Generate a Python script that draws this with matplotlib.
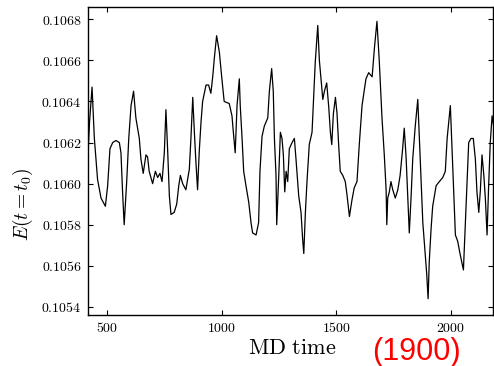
import matplotlib
matplotlib.use('Agg')
import matplotlib.pyplot as plt

# MD time steps and energy values
MD_TIME = [
    419, 424, 435, 445, 459, 474, 493, 503, 513, 525, 539, 554, 561, 568, 575,
    586, 595, 605, 616, 626, 641, 648, 658, 670, 677, 684, 699, 711, 721, 731,
    740, 750, 757, 765, 772, 779, 793, 804, 813, 820, 830, 844, 859, 866, 874,
    881, 888, 895, 902, 910, 917, 932, 943, 953, 961, 968, 978, 990, 1001, 1011,
    1033, 1045, 1051, 1059, 1067, 1077, 1081, 1089, 1096, 1106, 1118, 1128,
    1135, 1150, 1161, 1167, 1176, 1186, 1201, 1208, 1218, 1225, 1230, 1237,
    1240, 1249, 1256, 1263, 1269, 1275, 1281, 1288, 1295, 1307, 1317, 1324,
    1336, 1346, 1353, 1358, 1365, 1372, 1382, 1394, 1400, 1408, 1419, 1426,
    1433, 1441, 1448, 1458, 1467, 1474, 1480, 1487, 1496, 1503, 1510, 1517,
    1528, 1539, 1547, 1557, 1568, 1578, 1590, 1600, 1612, 1629, 1641, 1656,
    1666, 1677, 1687, 1699, 1709, 1717, 1720, 1724, 1731, 1738, 1746, 1757,
    1768, 1778, 1789, 1796, 1804, 1811, 1818, 1826, 1833, 1844, 1855, 1862,
    1869, 1877, 1887, 1894, 1900, 1905, 1913, 1920, 1935, 1949, 1964, 1975,
    1983, 1997, 2004, 2012, 2019, 2029, 2039, 2054, 2062, 2070, 2077, 2087,
    2097, 2106, 2113, 2121, 2128, 2135, 2143, 2150, 2157, 2164, 2171, 2179,
    2190,
]
ENERGY = [
    0.10618, 0.10630, 0.10647, 0.10622, 0.10602, 0.10593, 0.10589, 0.10599,
    0.10617, 0.10620, 0.10621, 0.10620, 0.10615, 0.10596, 0.10580, 0.10601,
    0.10622, 0.10638, 0.10645, 0.10632, 0.10622, 0.10612, 0.10605, 0.10614,
    0.10613, 0.10606, 0.10600, 0.10606, 0.10603, 0.10605, 0.10601, 0.10615,
    0.10636, 0.10615, 0.10594, 0.10585, 0.10586, 0.10590, 0.10599, 0.10604,
    0.10600, 0.10597, 0.10607, 0.10622, 0.10642, 0.10625, 0.10610, 0.10597,
    0.10615, 0.10630, 0.10640, 0.10648, 0.10648, 0.10644, 0.10652, 0.10661,
    0.10672, 0.10664, 0.10651, 0.10640, 0.10639, 0.10633, 0.10625, 0.10615,
    0.10638, 0.10651, 0.10638, 0.10622, 0.10606, 0.10599, 0.10591, 0.10581,
    0.10576, 0.10575, 0.10581, 0.10606, 0.10623, 0.10628, 0.10632, 0.10645,
    0.10656, 0.10645, 0.10622, 0.10604, 0.10580, 0.10604, 0.10625, 0.10622,
    0.10614, 0.10596, 0.10606, 0.10601, 0.10617, 0.10620, 0.10622, 0.10612,
    0.10594, 0.10586, 0.10573, 0.10566, 0.10586, 0.10601, 0.10619, 0.10625,
    0.10640, 0.10659, 0.10677, 0.10660, 0.10651, 0.10641, 0.10645, 0.10649,
    0.10637, 0.10625, 0.10619, 0.10634, 0.10642, 0.10634, 0.10619, 0.10606,
    0.10604, 0.10601, 0.10594, 0.10584, 0.10592, 0.10598, 0.10601, 0.10619,
    0.10638, 0.10651, 0.10654, 0.10652, 0.10666, 0.10679, 0.10660, 0.10632,
    0.10614, 0.10597, 0.10580, 0.10593, 0.10596, 0.10601, 0.10597, 0.10593,
    0.10597, 0.10604, 0.10617, 0.10627, 0.10613, 0.10594, 0.10576, 0.10594,
    0.10612, 0.10628, 0.10641, 0.10622, 0.10603, 0.10581, 0.10566, 0.10556,
    0.10544, 0.10562, 0.10578, 0.10589, 0.10599, 0.10601, 0.10603, 0.10606,
    0.10622, 0.10638, 0.10618, 0.10596, 0.10575, 0.10572, 0.10566, 0.10558,
    0.10580, 0.10603, 0.10620, 0.10622, 0.10622, 0.10612, 0.10596, 0.10586,
    0.10597, 0.10614, 0.10604, 0.10592, 0.10575, 0.10599, 0.10620, 0.10633,
    0.10625,
]

X_TICKS = [500, 1000, 1500, 2000]
X_LABELS = ['500', '1000', '1500', '2000']
Y_TICKS = [0.1054, 0.1056, 0.1058, 0.1060, 0.1062, 0.1064, 0.1066, 0.1068]
Y_LABELS = ['0.1054', '0.1056', '0.1058', '0.1060',
            '0.1062', '0.1064', '0.1066', '0.1068']


def draw():
    plt.rcParams['mathtext.fontset'] = 'cm'

    fig = plt.figure(figsize=(4.94, 3.66), dpi=100)
    ax = fig.add_axes([0.178, 0.139, 0.820, 0.842])

    ax.plot(MD_TIME, ENERGY, color='black', linewidth=0.9)

    ax.set_xlim(417, 2183)
    ax.set_ylim(0.10536, 0.10686)

    ax.set_xticks(X_TICKS)
    ax.set_xticklabels(['$%s$' % s for s in X_LABELS], fontsize=10)
    ax.set_yticks(Y_TICKS)
    ax.set_yticklabels(['$%s$' % s for s in Y_LABELS], fontsize=10)
    ax.tick_params(direction='in', top=True, right=True, length=3.5,
                   width=0.8)
    ax.tick_params(axis='x', pad=4)
    ax.tick_params(axis='y', pad=4.5)
    for sp in ax.spines.values():
        sp.set_linewidth(1.0)

    fig.text(0.047, 0.443, '$E(t=t_0)$', rotation=90, fontsize=14,
             ha='center', va='center')
    fig.text(0.591, 0.033, r'$\mathrm{MD\ time}$', fontsize=16,
             ha='center', va='baseline')
    # red annotation below the axis
    fig.text(0.843, 0.017, '(1900)', color='red', fontsize=22,
             family='Liberation Sans', ha='center', va='baseline')

    fig.savefig('out.png', dpi=100)


if __name__ == '__main__':
    draw()
